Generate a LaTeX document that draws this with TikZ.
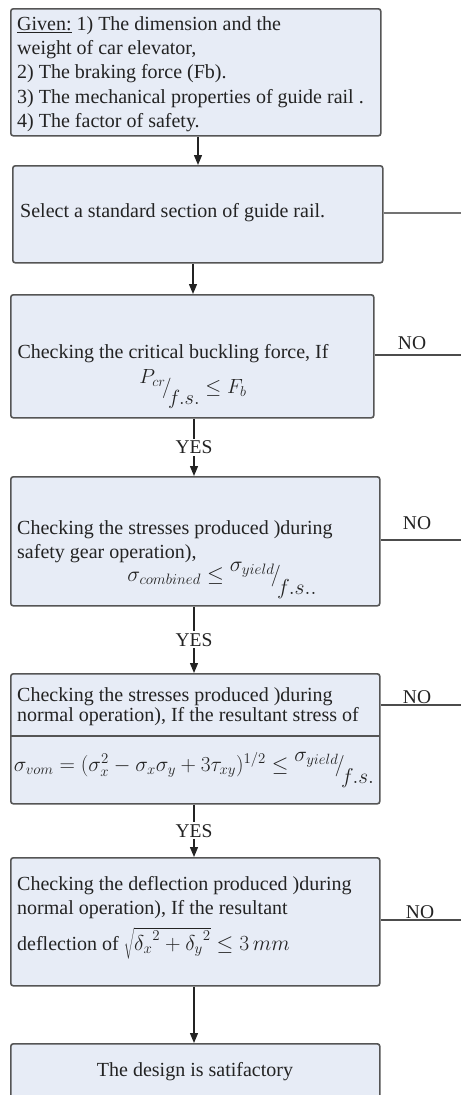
\documentclass[tikz,border=0pt]{standalone}
\usepackage{fontspec}
\usepackage{graphicx}
\setmainfont{Liberation Serif}
\usetikzlibrary{arrows.meta}
\definecolor{boxfill}{RGB}{231,236,246}
\definecolor{boxline}{RGB}{85,85,85}
\definecolor{ink}{RGB}{35,35,35}
\newcommand{\sfr}[2]{\raisebox{1.1ex}{$#1$}\!\bigg/\!\raisebox{-1.3ex}{$#2$}}
\begin{document}
\begin{tikzpicture}[x=1pt,y=-1pt,
  box/.style={draw=boxline, line width=1.6pt, fill=boxfill, rounded corners=2.5pt, anchor=north west, inner sep=0pt},
  txt/.style={font=\fontsize{20}{24.4}\selectfont, text=ink, inner sep=0pt},
  arr/.style={draw=ink, line width=1.3pt, -{Triangle[length=10pt,width=8pt]}},
  link/.style={draw=black!70, line width=1.3pt},
  lbl/.style={font=\fontsize{19.5}{20}\selectfont, text=ink, inner sep=1pt},
  yes/.style={lbl, fill=white, inner sep=2pt}]
\useasboundingbox (0,0) rectangle (461,1095);
\clip (0,0) rectangle (461,1095);
% boxes
\node[box, minimum width=370pt, minimum height=127pt] (b1) at (10,8) {};
\node[box, minimum width=370pt, minimum height=97pt] (b2) at (12,165) {};
\node[box, minimum width=363pt, minimum height=123pt] (b3) at (10,294) {};
\node[box, minimum width=369pt, minimum height=129pt] (b4) at (10,476) {};
\node[box, minimum width=369pt, minimum height=130pt] (b5) at (10,673) {};
\node[box, minimum width=369pt, minimum height=128pt] (b6) at (10,857) {};
\node[box, minimum width=369pt, minimum height=80pt] (b7) at (10,1043) {};
\coordinate (d5a) at (10,736);
\coordinate (d5b) at (379,736);
\draw[draw=boxline, line width=1.6pt] (d5a) -- (d5b);
% texts
\node[txt, anchor=north west, align=left] (t1) at (17,16) {\underline{Given:} 1) The dimension and the\\weight of car elevator,\\2) The braking force (Fb).\\3) The mechanical properties of guide rail .\\4) The factor of safety.};
\node[txt, anchor=west] (t2) at (20,213) {Select a standard section of guide rail.};
\node[txt] (t3) at (173,354) {Checking the critical buckling force, If};
\node[txt] (f3) at (193,389) {\resizebox{107pt}{!}{$\sfr{P_{cr}}{f.s.}\le F_b$}};
\node[txt, anchor=north west, align=left] (t4) at (17,520) {Checking the stresses produced )during\\safety gear operation),};
\node[txt] (f4) at (222,580) {\resizebox{189pt}{!}{$\sigma_{combined}\le\sfr{\sigma_{yield}}{f.s..}$}};
\node[txt, anchor=north west, align=left, font=\fontsize{20}{20.5}\selectfont] (t5) at (17,687) {Checking the stresses produced )during\\normal operation), If the resultant stress of};
\node[txt] (f5) at (194,770) {\resizebox{360pt}{!}{$\sigma_{vom}=(\sigma_x^2-\sigma_x\sigma_y+3\tau_{xy})^{1/2}\le\sfr{\sigma_{yield}}{f.s.}$}};
\node[txt, anchor=north west, align=left] (t6) at (17,876) {Checking the deflection produced )during\\normal operation), If the resultant};
\node[txt, anchor=west] (t6b) at (17,943) {deflection of \resizebox{166pt}{!}{$\sqrt{{\delta_x}^2+{\delta_y}^2}\le 3\,mm$}};
\node[txt] (t7) at (195,1072) {The design is satifactory};
% arrows
\coordinate (c1) at (198,0);
\coordinate (c2) at (193,0);
\coordinate (c3) at (194,0);
\draw[arr] (b1.south -| c1) -- (b2.north -| c1);
\draw[arr] (b2.south -| c2) -- (b3.north -| c2);
\draw[arr] (b3.south -| c3) -- node[yes] (y3) {YES} (b4.north -| c3);
\draw[arr] (b4.south -| c3) -- node[yes] (y4) {YES} (b5.north -| c3);
\draw[arr] (b5.south -| c3) -- node[yes] (y5) {YES} (b6.north -| c3);
\draw[arr] (b6.south -| c3) -- (b7.north -| c3);
% NO links
\coordinate (e2) at (461,213);
\coordinate (e3) at (461,355);
\coordinate (e4) at (461,540);
\coordinate (e5) at (461,705);
\coordinate (e6) at (461,920);
\draw[link, draw=black!55, line width=1.6pt] (b2.east |- e2) -- (e2);
\draw[link] (b3.east |- e3) -- (e3);
\draw[link] (b4.east |- e4) -- (e4);
\draw[link] (b5.east |- e5) -- (e5);
\draw[link] (b6.east |- e6) -- (e6);
\node[lbl, anchor=base] (n3) at (412,349) {NO};
\node[lbl, anchor=base] (n4) at (417,529) {NO};
\node[lbl, anchor=base] (n5) at (417,703) {NO};
\node[lbl, anchor=base] (n6) at (420,918) {NO};
\end{tikzpicture}
\end{document}
